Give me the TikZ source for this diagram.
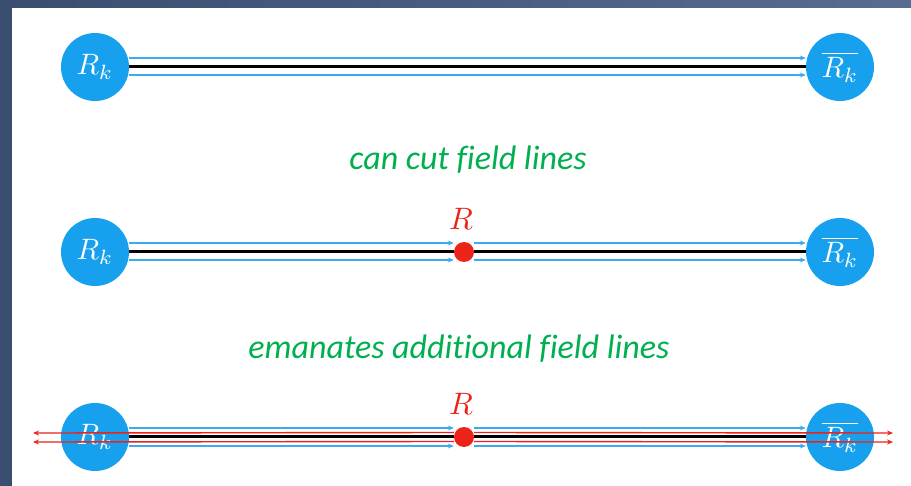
\documentclass[tikz,border=0pt]{standalone}
\usepackage{fontspec}
\newfontfamily\greenfont[Ligatures=NoCommon]{Carlito}
\usetikzlibrary{arrows.meta}
\definecolor{bgdark}{RGB}{58,78,112}
\definecolor{bgdark2}{RGB}{88,108,145}
\definecolor{circblue}{RGB}{22,160,238}
\definecolor{lineblue}{RGB}{60,170,240}
\definecolor{dotred}{RGB}{235,35,25}
\definecolor{txtgreen}{RGB}{0,176,80}
\newcommand{\bigmathlbl}[1]{\scalebox{2.95}{$#1$}}
\newcommand{\bigredlbl}[1]{\scalebox{3.1}{$#1$}}
\begin{document}
\begin{tikzpicture}[x=1pt,y=-1pt,
  charge/.style={circle,fill=circblue,minimum size=68pt,inner sep=0pt,text=white},
  src/.style={circle,fill=dotred,minimum size=20pt,inner sep=0pt},
  bluefl/.style={draw=lineblue,line width=1.4pt,-{Stealth[length=6pt,width=5pt]}},
  blackfl/.style={draw=black,line width=3pt},
  redfl/.style={draw=dotred,line width=1.4pt,-{Stealth[length=6pt,width=5pt]}},
  lbl/.style={text=txtgreen,font=\greenfont\itshape\fontsize{34}{40}\selectfont},
  rlbl/.style={text=dotred}
]
% background
\fill[bgdark] (0,0) rectangle (911,486);
\shade[left color=bgdark, right color=bgdark2] (0,0) rectangle (911,8);
\fill[white] (12,8) rectangle (911,486);
\useasboundingbox (0,0) rectangle (911,486);

% row 1
\node[charge] (a1) at (95,67) {\bigmathlbl{R_k}};
\node[charge] (b1) at (840,67) {\bigmathlbl{\overline{R_k}}};
\draw[blackfl] (a1) -- (b1);
\draw[bluefl] ([yshift=9pt]a1.east) -- ([yshift=9pt]b1.west);
\draw[bluefl] ([yshift=-8pt]a1.east) -- ([yshift=-8pt]b1.west);

\node[lbl] (t1) at (468,160) {can cut field lines};

% row 2
\node[charge] (a2) at (95,252) {\bigmathlbl{R_k}};
\node[charge] (b2) at (840,252) {\bigmathlbl{\overline{R_k}}};
\node[src] (r2) at (464,252) {};
\node[rlbl] (rl2) at (461,219) {\bigredlbl{R}};
\draw[blackfl] (a2) -- (r2);
\draw[blackfl] (r2) -- (b2);
\draw[bluefl] ([yshift=9pt]a2.east) -- ([yshift=9pt]r2.west);
\draw[bluefl] ([yshift=-8pt]a2.east) -- ([yshift=-8pt]r2.west);
\draw[bluefl] ([yshift=9pt]r2.east) -- ([yshift=9pt]b2.west);
\draw[bluefl] ([yshift=-8pt]r2.east) -- ([yshift=-8pt]b2.west);

\node[lbl] (t2) at (459,349) {emanates additional field lines};

% row 3
\node[charge] (a3) at (95,437) {\bigmathlbl{R_k}};
\node[charge] (b3) at (840,437) {\bigmathlbl{\overline{R_k}}};
\node[src] (r3) at (464,437) {};
\node[rlbl] (rl3) at (461,404) {\bigredlbl{R}};
\coordinate (L3) at (33,437.5);
\coordinate (R3) at (893,437.5);
\draw[blackfl] (a3) -- (r3);
\draw[blackfl] (r3) -- (b3);
\draw[bluefl] ([yshift=9pt]a3.east) -- ([yshift=9pt]r3.west);
\draw[bluefl] ([yshift=-9pt]a3.east) -- ([yshift=-9pt]r3.west);
\draw[bluefl] ([yshift=9pt]r3.east) -- ([yshift=9pt]b3.west);
\draw[bluefl] ([yshift=-9pt]r3.east) -- ([yshift=-9pt]b3.west);
\draw[redfl] ([yshift=4.5pt]r3.west) -- ([yshift=4.5pt]L3);
\draw[redfl] ([yshift=-4.5pt]r3.west) -- ([yshift=-4.5pt]L3);
\draw[redfl] ([yshift=4.5pt]r3.east) -- ([yshift=4.5pt]R3);
\draw[redfl] ([yshift=-4.5pt]r3.east) -- ([yshift=-4.5pt]R3);
\end{tikzpicture}
\end{document}
